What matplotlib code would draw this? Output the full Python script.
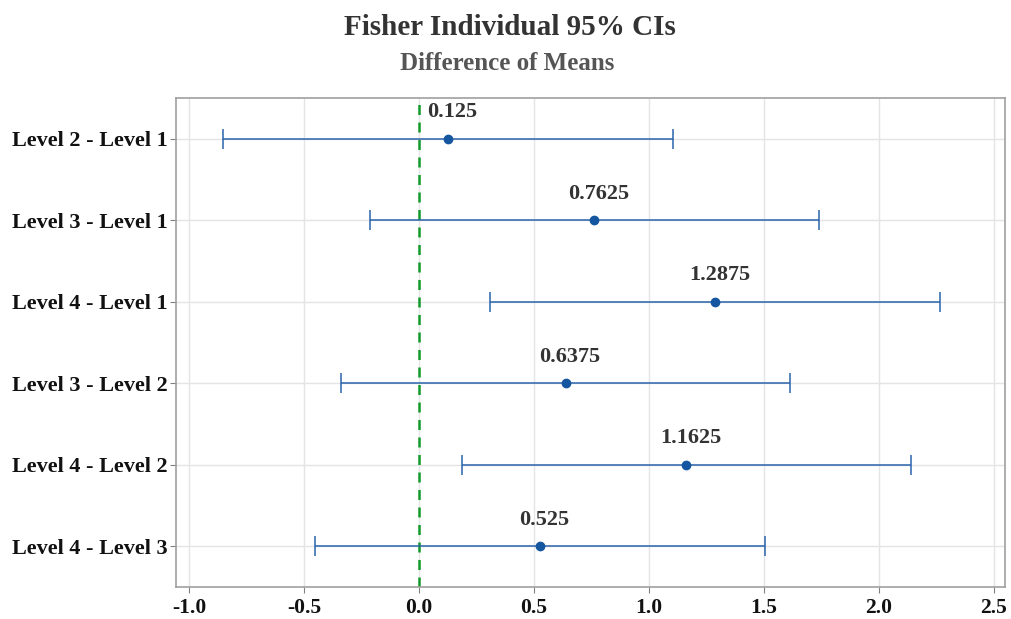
import matplotlib.pyplot as plt

labels = ["Level 2 - Level 1", "Level 3 - Level 1", "Level 4 - Level 1",
          "Level 3 - Level 2", "Level 4 - Level 2", "Level 4 - Level 3"]
diffs = [0.125, 0.7625, 1.2875, 0.6375, 1.1625, 0.525]
lower = [-0.853, -0.215, 0.310, -0.340, 0.185, -0.453]
upper = [1.103, 1.740, 2.265, 1.615, 2.140, 1.503]
xticks = [-1.0, -0.5, 0.0, 0.5, 1.0, 1.5, 2.0, 2.5]

serif = ["Liberation Serif", "DejaVu Serif"]
plt.rcParams['font.family'] = serif

fig = plt.figure(figsize=(10.11, 6.19), dpi=100)
ax = fig.add_axes([0.174, 0.052, 0.820, 0.790])

ypos = list(range(len(labels)))
blue = "#2a64ac"
for y, d, lo, hi in zip(ypos, diffs, lower, upper):
    ax.errorbar(d, y, xerr=[[d - lo], [hi - d]], fmt="o", color=blue,
                ecolor=blue, elinewidth=1.1, capsize=7, capthick=1.1,
                markersize=6, markerfacecolor="#1456a0", markeredgecolor="#1456a0",
                zorder=3)
    ax.text(d + 0.02, y - 0.2, f"{d:g}", ha="center", va="bottom", fontsize=16,
            fontweight="bold", color="#333333")

ax.axvline(0, color="#119a2a", linestyle=(0, (4, 3)), linewidth=1.8, zorder=2)

ax.set_xlim(-1.057, 2.548)
ax.set_ylim(len(labels) - 0.5, -0.5)
ax.set_xticks(xticks)
ax.set_xticklabels([f"{t:.1f}" for t in xticks])
ax.set_yticks(ypos)
ax.set_yticklabels(labels)
ax.grid(True, color="#e4e4e4", linewidth=1, zorder=0)
ax.set_axisbelow(True)

for s in ax.spines.values():
    s.set_color("#a0a0a0")
    s.set_linewidth(1.2)
ax.tick_params(axis="both", colors="#808080", length=4, labelcolor="#111111")
ax.tick_params(axis="y", pad=2)
ax.tick_params(axis="x", pad=4)
for lab in ax.get_xticklabels():
    lab.set_fontweight("bold")
    lab.set_fontsize(15.5)
for lab in ax.get_yticklabels():
    lab.set_fontweight("bold")
    lab.set_fontsize(16)

fig.text(0.504, 0.955, "Fisher Individual 95% CIs", ha="center", va="center",
         fontsize=21, fontweight="bold", color="#333333")
fig.text(0.502, 0.897, "Difference of Means", ha="center", va="center",
         fontsize=18, fontweight="bold", color="#555555")

fig.savefig("out.png", dpi=100)
